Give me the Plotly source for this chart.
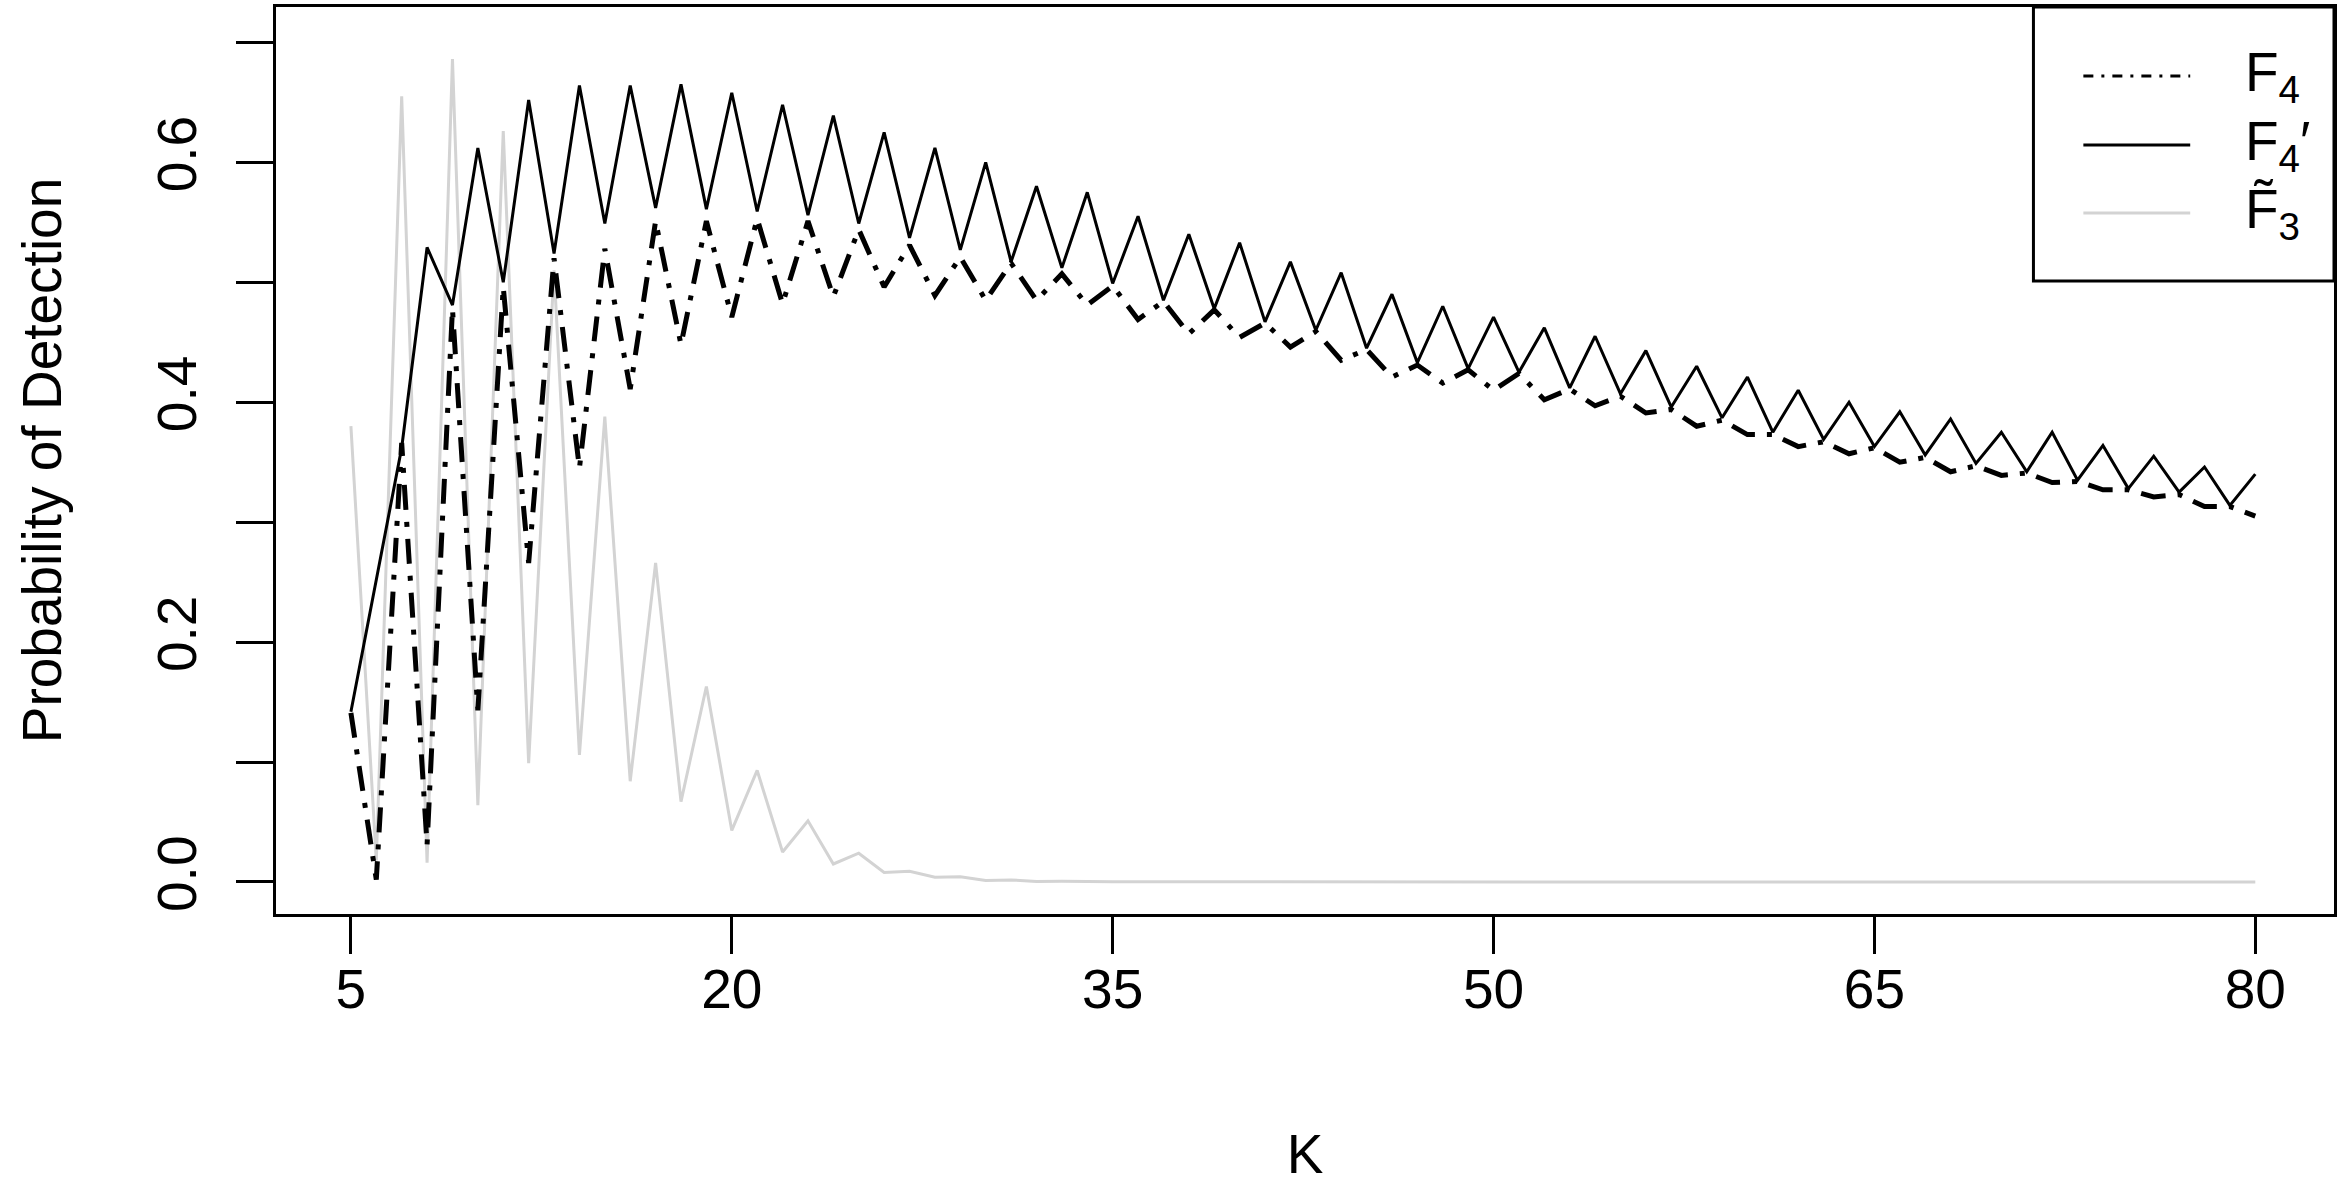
import plotly.graph_objects as go

K = [5, 6, 7, 8, 9, 10, 11, 12, 13, 14, 15, 16, 17, 18, 19, 20, 21, 22, 23, 24,
     25, 26, 27, 28, 29, 30, 31, 32, 33, 34, 35, 36, 37, 38, 39, 40, 41, 42, 43, 44,
     45, 46, 47, 48, 49, 50, 51, 52, 53, 54, 55, 56, 57, 58, 59, 60, 61, 62, 63, 64,
     65, 66, 67, 68, 69, 70, 71, 72, 73, 74, 75, 76, 77, 78, 79, 80]

F4 = [0.141, 0.002, 0.366, 0.031, 0.478, 0.143, 0.496, 0.266, 0.520, 0.345,
      0.528, 0.411, 0.551, 0.448, 0.551, 0.471, 0.553, 0.482, 0.551, 0.488,
      0.544, 0.496, 0.531, 0.489, 0.521, 0.485, 0.516, 0.485, 0.507, 0.481,
      0.497, 0.469, 0.484, 0.457, 0.477, 0.454, 0.466, 0.446, 0.459, 0.435,
      0.444, 0.421, 0.431, 0.416, 0.427, 0.410, 0.424, 0.402, 0.411, 0.397,
      0.405, 0.391, 0.394, 0.380, 0.385, 0.373, 0.373, 0.363, 0.367, 0.357,
      0.362, 0.350, 0.354, 0.342, 0.347, 0.339, 0.341, 0.333, 0.334, 0.327,
      0.327, 0.321, 0.323, 0.313, 0.313, 0.305]

F4_prime = [0.142, 0.251, 0.362, 0.529, 0.481, 0.612, 0.500, 0.652, 0.524, 0.664,
            0.549, 0.664, 0.562, 0.665, 0.561, 0.658, 0.559, 0.648, 0.556, 0.639,
            0.549, 0.625, 0.537, 0.612, 0.527, 0.600, 0.517, 0.580, 0.512, 0.575,
            0.499, 0.555, 0.485, 0.540, 0.478, 0.533, 0.467, 0.517, 0.460, 0.508,
            0.445, 0.490, 0.433, 0.480, 0.428, 0.471, 0.425, 0.462, 0.412, 0.455,
            0.407, 0.443, 0.396, 0.430, 0.387, 0.421, 0.375, 0.410, 0.369, 0.400,
            0.363, 0.392, 0.356, 0.386, 0.349, 0.375, 0.342, 0.375, 0.335, 0.364,
            0.328, 0.355, 0.325, 0.346, 0.314, 0.340]

F3_tilde = [0.380, 0.018, 0.655, 0.016, 0.686, 0.064, 0.626, 0.099, 0.510, 0.106,
            0.388, 0.084, 0.266, 0.067, 0.163, 0.043, 0.093, 0.025, 0.051, 0.015,
            0.024, 0.008, 0.009, 0.004, 0.0044, 0.0012, 0.0017, 0.0005, 0.0006, 0.0002,
            0.0002, 0.0001, 0.0001, 0.0, 0.0, 0.0, 0.0, 0.0, 0.0, 0.0,
            0.0, 0.0, 0.0, 0.0, 0.0, 0.0, 0.0, 0.0, 0.0, 0.0,
            0.0, 0.0, 0.0, 0.0, 0.0, 0.0, 0.0, 0.0, 0.0, 0.0,
            0.0, 0.0, 0.0, 0.0, 0.0, 0.0, 0.0, 0.0, 0.0, 0.0,
            0.0, 0.0, 0.0, 0.0, 0.0, 0.0]

x_ticks = [5, 20, 35, 50, 65, 80]
y_major = [0.0, 0.2, 0.4, 0.6]
y_major_text = ["0.0", "0.2", "0.4", "0.6"]
y_minor = [0.1, 0.3, 0.5, 0.7]

legend_labels = ["F<sub>4</sub>", "F<sub>4</sub>\u2032", "F\u0303<sub>3</sub>"]

FONT = "Liberation Sans, Arial, Helvetica, sans-serif"
FS = 55
DASHDOT = "25px,12px,5px,12px"

fig = go.Figure()
fig.add_trace(go.Scatter(x=K, y=F3_tilde, mode="lines", name="F3~",
                         line=dict(color="#D3D3D3", width=3), showlegend=False))
fig.add_trace(go.Scatter(x=K, y=F4_prime, mode="lines", name="F4'",
                         line=dict(color="black", width=3), showlegend=False))
fig.add_trace(go.Scatter(x=K, y=F4, mode="lines", name="F4",
                         line=dict(color="black", width=5, dash=DASHDOT), showlegend=False))

# legend box (drawn manually to mimic R legend)
L, R, T, B = 276, 2337, 7, 914
W, H = R - L, B - T
def px(xp):
    return (xp - L) / W
def py(yp):
    return (B - yp) / H

shapes = [dict(type="rect", xref="paper", yref="paper",
               x0=px(2036), x1=1.0, y0=py(281), y1=1.0,
               line=dict(color="black", width=3), fillcolor="white", layer="above")]
leg_y = [76, 145, 213]
leg_styles = [dict(color="black", width=3, dash="10px,8px,3px,8px"),
              dict(color="black", width=3),
              dict(color="#D3D3D3", width=3)]
annotations = []
for yy, st, lab in zip(leg_y, leg_styles, legend_labels):
    shapes.append(dict(type="line", xref="paper", yref="paper",
                       x0=px(2086), x1=px(2193), y0=py(yy), y1=py(yy),
                       line=st, layer="above"))
    annotations.append(dict(x=px(2246), y=py(yy), xref="paper", yref="paper",
                            text=lab, showarrow=False, xanchor="left", yanchor="middle",
                            font=dict(family=FONT, size=FS, color="black")))

fig.update_layout(
    width=2341, height=1200,
    margin=dict(l=L, r=2341 - R, t=T, b=1200 - B, pad=0),
    paper_bgcolor="white", plot_bgcolor="white",
    font=dict(family=FONT, size=FS, color="black"),
    shapes=shapes, annotations=annotations,
    showlegend=False,
)
fig.update_xaxes(range=[2.05, 83.1], tickvals=x_ticks, ticktext=[str(v) for v in x_ticks],
                 ticks="outside", ticklen=37, tickwidth=2.5, tickcolor="black",
                 ticklabelstandoff=-12,
                 showline=True, linecolor="black", linewidth=3, mirror=True,
                 showgrid=False, zeroline=False,
                 tickfont=dict(family=FONT, size=FS, color="black"),
                 title=dict(text="K", font=dict(family=FONT, size=FS, color="black"), standoff=116))
fig.update_yaxes(range=[-0.0267, 0.7295], tickvals=y_major, ticktext=y_major_text,
                 tickangle=-90,
                 ticks="outside", ticklen=37, tickwidth=2.5, tickcolor="black",
                 ticklabelstandoff=18,
                 minor=dict(tickvals=y_minor, ticks="outside", ticklen=37, tickwidth=2.5,
                            tickcolor="black", showgrid=False),
                 showline=True, linecolor="black", linewidth=3, mirror=True,
                 showgrid=False, zeroline=False,
                 tickfont=dict(family=FONT, size=FS, color="black"),
                 title=dict(text="Probability of Detection",
                            font=dict(family=FONT, size=FS, color="black"), standoff=67))

fig.write_html("out.html", config={"displayModeBar": False},
               post_script="document.body.style.margin='0';")
